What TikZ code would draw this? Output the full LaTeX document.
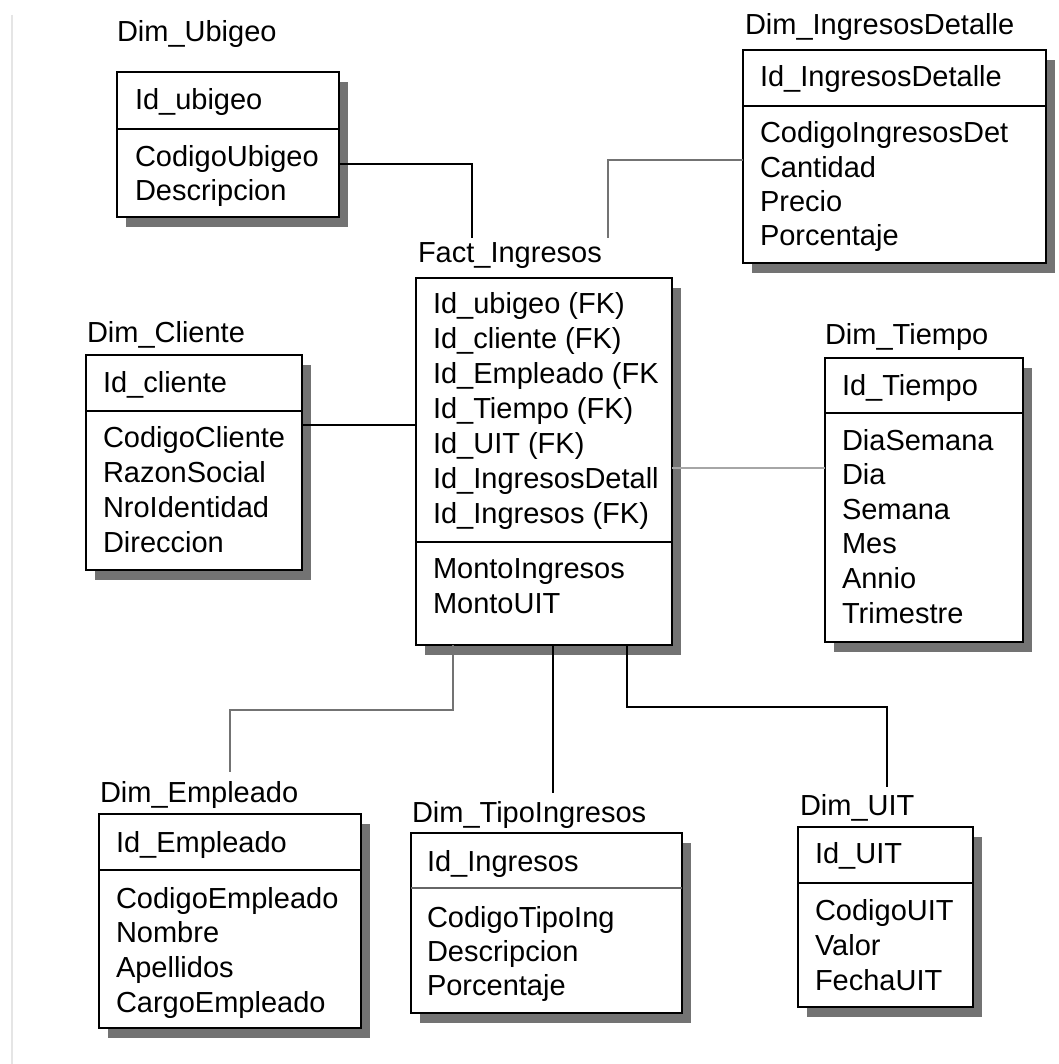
\documentclass[tikz,border=0pt]{standalone}
\usepackage{fontspec}
\setmainfont{Liberation Sans}
\usetikzlibrary{shadows}
\begin{document}
\begin{tikzpicture}[x=1pt,y=-1pt,
  every node/.style={font=\fontsize{29}{35}\selectfont, inner sep=0pt, outer sep=0pt},
  entity/.style={draw=black, line width=2.8pt, fill=white, rectangle, anchor=north west,
    drop shadow={shadow xshift=9pt, shadow yshift=-10pt, fill=black!55, opacity=1}},
  divider/.style={draw=black, line width=2.4pt},
  title/.style={anchor=base west, text=black},
  attr/.style={anchor=base west, text=black},
  rel/.style={draw=black, line width=2.4pt},
  relgray/.style={draw=black!55, line width=2.4pt},
  rellight/.style={draw=black!35, line width=2.4pt},
]
\useasboundingbox (0,0) rectangle (1058,1064);
\fill[white] (0,0) rectangle (1058,1064);
\draw[black!10, line width=1.5pt] (12,15) -- (12,1064);

% ---------- Dim_Ubigeo ----------
\node[title] (ubigeo-t) at (117,42) {Dim\_Ubigeo};
\node[entity, minimum width=222pt, minimum height=145pt] (ubigeo) at (117,72) {};
\draw[divider] (ubigeo.west |- 0,129) -- (ubigeo.east |- 0,129);
\node[attr] (ubigeo-k) at (135,110) {Id\_ubigeo};
\foreach \t [count=\i from 0] in {CodigoUbigeo, Descripcion}
  \node[attr] (ubigeo-a\i) at (135,167+\i*34) {\t};

% ---------- Dim_IngresosDetalle ----------
\node[title] (ingdet-t) at (745,35) {Dim\_IngresosDetalle};
\node[entity, minimum width=303pt, minimum height=213pt] (ingdet) at (743,50) {};
\draw[divider] (ingdet.west |- 0,106) -- (ingdet.east |- 0,106);
\node[attr] (ingdet-k) at (760,87) {Id\_IngresosDetalle};
\foreach \t [count=\i from 0] in {CodigoIngresosDet, Cantidad, Precio, Porcentaje}
  \node[attr] (ingdet-a\i) at (760,143+\i*34.2) {\t};

% ---------- Fact_Ingresos ----------
\node[title] (fact-t) at (418,263) {Fact\_Ingresos};
\node[entity, minimum width=256pt, minimum height=367pt] (fact) at (416,278) {};
\draw[divider] (fact.west |- 0,542) -- (fact.east |- 0,542);
\foreach \t [count=\i from 0] in {Id\_ubigeo (FK), Id\_cliente (FK), Id\_Empleado (FK,
    Id\_Tiempo (FK), Id\_UIT (FK), Id\_IngresosDetall, Id\_Ingresos (FK)}
  \node[attr] (fact-k\i) at (433,313.3+\i*35) {\t};
\foreach \t [count=\i from 0] in {MontoIngresos, MontoUIT}
  \node[attr] (fact-a\i) at (433,578+\i*35) {\t};

% ---------- Dim_Cliente ----------
\node[title] (cliente-t) at (87,342) {Dim\_Cliente};
\node[entity, minimum width=216pt, minimum height=215pt] (cliente) at (86,355) {};
\draw[divider] (cliente.west |- 0,411) -- (cliente.east |- 0,411);
\node[attr] (cliente-k) at (103,392) {Id\_cliente};
\foreach \t [count=\i from 0] in {CodigoCliente, RazonSocial, NroIdentidad, Direccion}
  \node[attr] (cliente-a\i) at (103,447+\i*35.3) {\t};

% ---------- Dim_Tiempo ----------
\node[title] (tiempo-t) at (825,344) {Dim\_Tiempo};
\node[entity, minimum width=198pt, minimum height=284pt] (tiempo) at (825,358) {};
\draw[divider] (tiempo.west |- 0,413) -- (tiempo.east |- 0,413);
\node[attr] (tiempo-k) at (842,395) {Id\_Tiempo};
\foreach \t [count=\i from 0] in {DiaSemana, Dia, Semana, Mes, Annio, Trimestre}
  \node[attr] (tiempo-a\i) at (842,450+\i*34.6) {\t};

% ---------- Dim_Empleado ----------
\node[title] (empleado-t) at (100,802) {Dim\_Empleado};
\node[entity, minimum width=262pt, minimum height=214pt] (empleado) at (99,814) {};
\draw[divider] (empleado.west |- 0,870) -- (empleado.east |- 0,870);
\node[attr] (empleado-k) at (116,852) {Id\_Empleado};
\foreach \t [count=\i from 0] in {CodigoEmpleado, Nombre, Apellidos, CargoEmpleado}
  \node[attr] (empleado-a\i) at (116,908+\i*34.7) {\t};

% ---------- Dim_TipoIngresos ----------
\node[title] (tipo-t) at (412,822) {Dim\_TipoIngresos};
\node[entity, minimum width=271pt, minimum height=180pt] (tipo) at (411,833) {};
\draw[divider, draw=black!60] (tipo.west |- 0,888) -- (tipo.east |- 0,888);
\node[attr] (tipo-k) at (427,871) {Id\_Ingresos};
\foreach \t [count=\i from 0] in {CodigoTipoIng, Descripcion, Porcentaje}
  \node[attr] (tipo-a\i) at (427,927+\i*34) {\t};

% ---------- Dim_UIT ----------
\node[title] (uit-t) at (800,815) {Dim\_UIT};
\node[entity, minimum width=175pt, minimum height=180pt] (uit) at (798,827) {};
\draw[divider] (uit.west |- 0,883) -- (uit.east |- 0,883);
\node[attr] (uit-k) at (815,863) {Id\_UIT};
\foreach \t [count=\i from 0] in {CodigoUIT, Valor, FechaUIT}
  \node[attr] (uit-a\i) at (815,920+\i*35) {\t};

% ---------- relationship ends above the table titles ----------
\coordinate (ubigeo-end) at (472,238);
\coordinate (ingdet-end) at (608,238);
\coordinate (empleado-end) at (230,772);
\coordinate (tipo-end) at (553,793);
\coordinate (uit-end) at (887,787);

% ---------- relationships ----------
\draw[rel] (ubigeo.east |- 0,164) -| (ubigeo-end);
\draw[relgray] (ingdet-end) |- (ingdet.west |- 0,160);
\draw[rel] (cliente.east |- 0,425) -- (fact.west |- 0,425);
\draw[rellight] (fact.east |- 0,468) -- (tiempo.west |- 0,468);
\draw[relgray] (fact.south -| 453,0) |- (empleado-end |- 0,710) -- (empleado-end);
\draw[rel] (fact.south -| 553,0) -- (tipo-end);
\draw[rel] (fact.south -| 627,0) -- ++(0,62) -| (uit-end);
\end{tikzpicture}
\end{document}
